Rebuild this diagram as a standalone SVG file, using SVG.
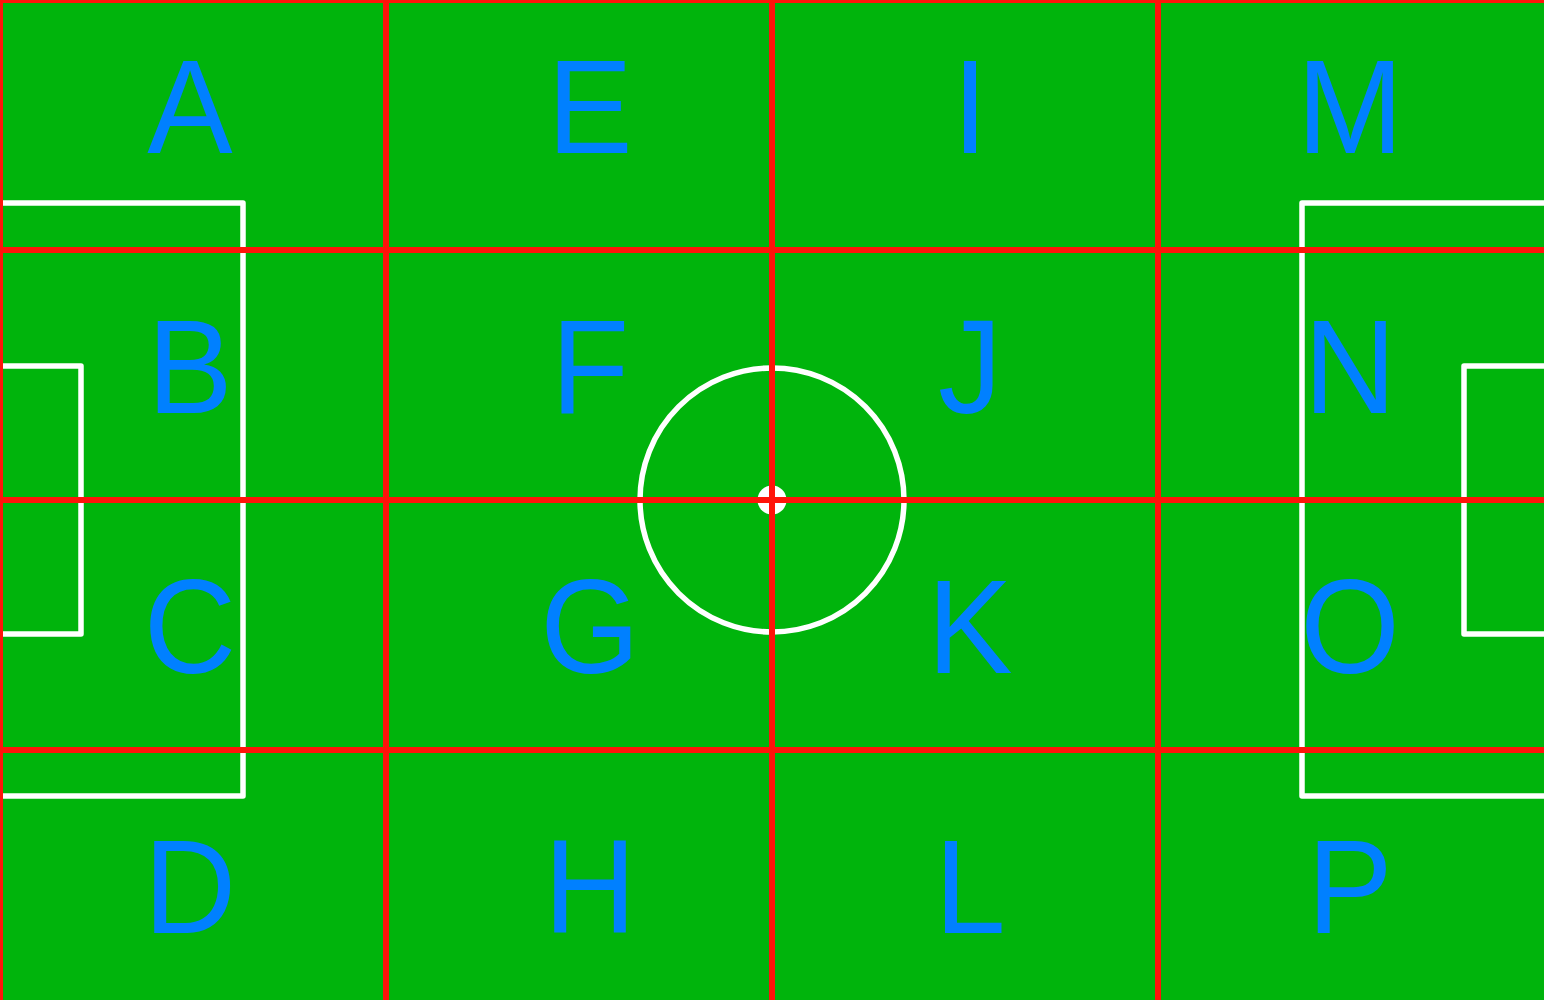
<svg xmlns="http://www.w3.org/2000/svg" width="1548" height="1002" viewBox="0 0 1548 1002">
<style>
.mark{fill:none;stroke:#FFFFFF;stroke-width:5.5;stroke-linejoin:round}
.grid{stroke:#FF140A;stroke-width:6}
.lbl{font-family:"Liberation Sans",Arial,sans-serif;font-size:128px;fill:#0080FF;text-anchor:middle}
</style>
<rect x="0" y="0" width="1548" height="1002" fill="#FFFFFF"/>
<rect id="field" x="0" y="0" width="1544" height="1000" fill="#00B40C"/>
<g id="markings">
<path class="mark" d="M0,203 H243 V796 H0"/>
<path class="mark" d="M0,366 H81 V634 H0"/>
<path class="mark" d="M1544,203 H1302 V796 H1544"/>
<path class="mark" d="M1544,366 H1464 V634 H1544"/>
<circle class="mark" cx="772" cy="500" r="132"/>
<circle cx="772" cy="500" r="14.5" fill="#FFFFFF"/>
</g>
<g id="connectors">
<line class="grid" x1="0" y1="0" x2="0" y2="1000"/>
<line class="grid" x1="386" y1="0" x2="386" y2="1000"/>
<line class="grid" x1="772" y1="0" x2="772" y2="1000"/>
<line class="grid" x1="1158" y1="0" x2="1158" y2="1000"/>
<line class="grid" x1="0" y1="0" x2="1544" y2="0"/>
<line class="grid" x1="0" y1="250" x2="1544" y2="250"/>
<line class="grid" x1="0" y1="500" x2="1544" y2="500"/>
<line class="grid" x1="0" y1="750" x2="1544" y2="750"/>
</g>
<g id="A"><text class="lbl" transform="matrix(1,0,0,1.04,190,153)">A</text></g>
<g id="B"><text class="lbl" transform="matrix(1,0,0,1.04,190,413)">B</text></g>
<g id="C"><text class="lbl" transform="matrix(1,0,0,1.04,190,673)">C</text></g>
<g id="D"><text class="lbl" transform="matrix(1,0,0,1.04,190,933)">D</text></g>
<g id="E"><text class="lbl" transform="matrix(1,0,0,1.04,590,153)">E</text></g>
<g id="F"><text class="lbl" transform="matrix(1,0,0,1.04,590,413)">F</text></g>
<g id="G"><text class="lbl" transform="matrix(1,0,0,1.04,590,673)">G</text></g>
<g id="H"><text class="lbl" transform="matrix(1,0,0,1.04,590,933)">H</text></g>
<g id="I"><text class="lbl" transform="matrix(1,0,0,1.04,970,153)">I</text></g>
<g id="J"><text class="lbl" transform="matrix(1,0,0,1.04,970,413)">J</text></g>
<g id="K"><text class="lbl" transform="matrix(1,0,0,1.04,970,673)">K</text></g>
<g id="L"><text class="lbl" transform="matrix(1,0,0,1.04,970,933)">L</text></g>
<g id="M"><text class="lbl" transform="matrix(1,0,0,1.04,1350,153)">M</text></g>
<g id="N"><text class="lbl" transform="matrix(1,0,0,1.04,1350,413)">N</text></g>
<g id="O"><text class="lbl" transform="matrix(1,0,0,1.04,1350,673)">O</text></g>
<g id="P"><text class="lbl" transform="matrix(1,0,0,1.04,1350,933)">P</text></g>
</svg>
